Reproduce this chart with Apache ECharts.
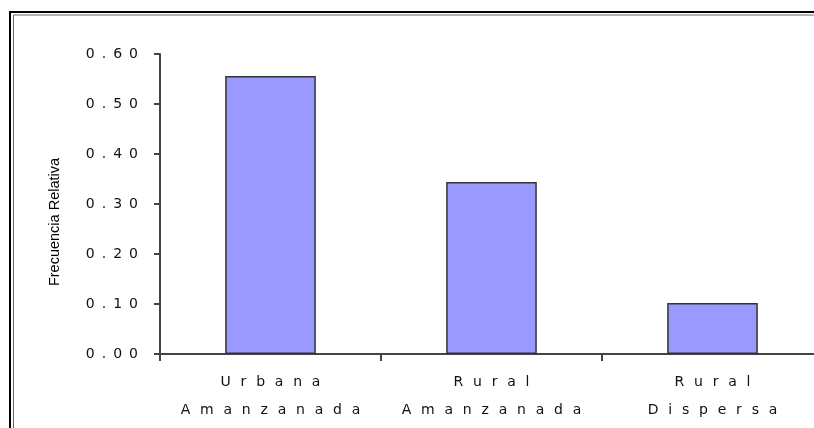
<!DOCTYPE html>
<html><head><meta charset="utf-8">
<script src="https://cdn.jsdelivr.net/npm/echarts@6/dist/echarts.min.js"></script>
<style>html,body{margin:0;padding:0;background:#fff;overflow:hidden;width:814px;height:428px}#c{width:840px;height:428px}</style>
</head>
<body><div id="c"></div>
<script>
const categories = ['Urbana\nAmanzanada', 'Rural\nAmanzanada', 'Rural\nDispersa'];
const values = [0.556, 0.344, 0.102];
const yMin = 0, yMax = 0.6, yInterval = 0.1;
const yAxisTitle = 'Frecuencia Relativa';

const EN = '\u2002', THIN = '\u2009';
const spaced = (s, sep) => s.split('\n').map(l => l.split('').join(sep)).join('\n');
const FONT = "'DejaVu Sans', sans-serif";
const axisColor = '#444';

const chart = echarts.init(document.getElementById('c'));
chart.setOption({
  animation: false,
  backgroundColor: '#fff',
  grid: { left: 160, top: 54, width: 663, height: 300, containLabel: false },
  xAxis: {
    type: 'category',
    data: categories,
    axisLine: { lineStyle: { color: axisColor, width: 2 } },
    axisTick: { show: true, length: 7, lineStyle: { color: axisColor, width: 2 } },
    axisLabel: {
      interval: 0,
      formatter: v => spaced(v, EN + THIN),
      fontSize: 14, lineHeight: 28, margin: 14, color: '#111', fontFamily: FONT
    }
  },
  yAxis: {
    type: 'value', min: yMin, max: yMax, interval: yInterval,
    axisLine: { show: true, lineStyle: { color: axisColor, width: 2 } },
    axisTick: { show: true, length: 6, lineStyle: { color: axisColor, width: 2 } },
    splitLine: { show: false },
    axisLabel: {
      formatter: v => spaced(v.toFixed(2), EN),
      fontSize: 14, margin: 22, color: '#111', fontFamily: FONT
    }
  },
  series: [{
    type: 'bar',
    data: values,
    barWidth: '41%',
    itemStyle: { color: '#9999FF', borderColor: '#333', borderWidth: 1.5 }
  }],
  graphic: [
    { type: 'rect', shape: { x: 10, y: 12, width: 900, height: 600 }, style: { fill: 'none', stroke: '#000', lineWidth: 2 }, z: 100 },
    { type: 'rect', shape: { x: 13.5, y: 15, width: 900, height: 600 }, style: { fill: 'none', stroke: '#666', lineWidth: 1 }, z: 100 },
    { type: 'text', x: 55, y: 222, rotation: Math.PI / 2,
      style: { text: yAxisTitle, font: "14.5px 'Liberation Sans', Arial, sans-serif", fill: '#000', align: 'center', verticalAlign: 'middle' } }
  ]
});
</script>
</body></html>
